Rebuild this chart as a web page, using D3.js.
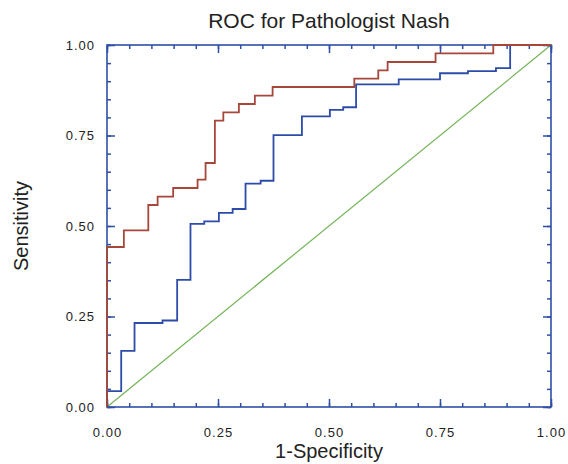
<!DOCTYPE html>
<meta charset="utf-8">
<script src="https://d3js.org/d3.v7.min.js"></script>
<style>
  body { margin: 0; background: #fff; }
  text { font-family: "Liberation Sans", Arial, sans-serif; fill: #222; }
</style>
<body>
<svg width="568" height="464"></svg>
<script>
// ROC points (step corners: fpr where it rises, sensitivity it rises to)
var redFpr  = [0, 0, 0.038, 0.093, 0.114, 0.149, 0.204, 0.222, 0.243, 0.262, 0.297, 0.333, 0.373, 0.557, 0.611, 0.632, 0.740, 0.870, 1.0];
var redSens = [0, 0.442, 0.488, 0.558, 0.581, 0.605, 0.628, 0.674, 0.791, 0.814, 0.837, 0.860, 0.884, 0.907, 0.930, 0.953, 0.977, 1.0, 1.0];

var blueFpr  = [0, 0, 0.032, 0.062, 0.125, 0.158, 0.188, 0.219, 0.252, 0.283, 0.312, 0.346, 0.375, 0.439, 0.502, 0.532, 0.561, 0.657, 0.750, 0.813, 0.876, 0.908, 1.0];
var blueSens = [0, 0.044, 0.155, 0.232, 0.239, 0.351, 0.506, 0.513, 0.536, 0.547, 0.617, 0.625, 0.751, 0.803, 0.821, 0.828, 0.891, 0.905, 0.922, 0.928, 0.936, 1.0, 1.0];

var chanceLine = [[0, 0], [1, 1]];
var majorTicks = [0, 0.25, 0.5, 0.75, 1];
var minorTicks = d3.range(0, 21).map(function(i){ return i / 20; });

var title = "ROC for Pathologist Nash", xTitle = "1-Specificity", yTitle = "Sensitivity";

var pLeft = 107, pRight = 551, pTop = 45, pBottom = 407;
var frameColor = "#2f4fa6", redColor = "#a5473a", blueColor = "#2c4ca8", greenColor = "#72b356";

var svg = d3.select("svg");
var x = d3.scaleLinear().domain([0, 1]).range([pLeft, pRight]);
var y = d3.scaleLinear().domain([0, 1]).range([pBottom, pTop]);
var fmt = d3.format(".2f");

function styleAxis(g) {
  g.attr("font-size", 13).attr("font-family", "'Liberation Sans', Arial, sans-serif");
  g.select(".domain").remove();
  g.selectAll(".tick line").attr("stroke", frameColor).attr("stroke-width", 1.5);
  g.selectAll(".tick text").attr("fill", "#222").style("letter-spacing", "1px");
}

// chance diagonal
svg.append("path")
  .attr("d", d3.line().x(function(d){ return x(d[0]); }).y(function(d){ return y(d[1]); })(chanceLine))
  .attr("stroke", greenColor).attr("stroke-width", 1.2).attr("fill", "none");

// minor ticks on all sides (inward)
svg.append("g").attr("transform", "translate(0," + pBottom + ")")
  .call(d3.axisBottom(x).tickValues(minorTicks).tickSizeInner(-4).tickSizeOuter(0).tickFormat(""))
  .call(styleAxis);
svg.append("g").attr("transform", "translate(0," + pTop + ")")
  .call(d3.axisTop(x).tickValues(minorTicks).tickSizeInner(-4).tickSizeOuter(0).tickFormat(""))
  .call(styleAxis);
svg.append("g").attr("transform", "translate(" + pLeft + ",0)")
  .call(d3.axisLeft(y).tickValues(minorTicks).tickSizeInner(-4).tickSizeOuter(0).tickFormat(""))
  .call(styleAxis);
svg.append("g").attr("transform", "translate(" + pRight + ",0)")
  .call(d3.axisRight(y).tickValues(minorTicks).tickSizeInner(-4).tickSizeOuter(0).tickFormat(""))
  .call(styleAxis);

// major ticks with labels
svg.append("g").attr("transform", "translate(0," + pBottom + ")")
  .call(d3.axisBottom(x).tickValues(majorTicks).tickSizeInner(-8).tickSizeOuter(0).tickPadding(21).tickFormat(fmt))
  .call(styleAxis);
svg.append("g").attr("transform", "translate(0," + pTop + ")")
  .call(d3.axisTop(x).tickValues(majorTicks).tickSizeInner(-8).tickSizeOuter(0).tickFormat(""))
  .call(styleAxis);
svg.append("g").attr("transform", "translate(" + pLeft + ",0)")
  .call(d3.axisLeft(y).tickValues(majorTicks).tickSizeInner(-8).tickSizeOuter(0).tickPadding(12).tickFormat(fmt))
  .call(styleAxis);
svg.append("g").attr("transform", "translate(" + pRight + ",0)")
  .call(d3.axisRight(y).tickValues(majorTicks).tickSizeInner(-8).tickSizeOuter(0).tickFormat(""))
  .call(styleAxis);

// frame
svg.append("rect")
  .attr("x", pLeft).attr("y", pTop).attr("width", pRight - pLeft).attr("height", pBottom - pTop)
  .attr("fill", "none").attr("stroke", frameColor).attr("stroke-width", 1.6);

// ROC curves
var step = d3.line().curve(d3.curveStepAfter)
  .x(function(d){ return x(d[0]); }).y(function(d){ return y(d[1]); });

svg.append("path")
  .attr("d", step(d3.zip(blueFpr, blueSens)))
  .attr("stroke", blueColor).attr("stroke-width", 1.8).attr("fill", "none");
svg.append("path")
  .attr("d", step(d3.zip(redFpr, redSens)))
  .attr("stroke", redColor).attr("stroke-width", 1.8).attr("fill", "none");

// titles
svg.append("text").attr("x", (pLeft + pRight) / 2).attr("y", 28)
  .attr("text-anchor", "middle").style("font-size", "21px").text(title);
svg.append("text").attr("x", (pLeft + pRight) / 2).attr("y", 458)
  .attr("text-anchor", "middle").style("font-size", "20px").text(xTitle);
svg.append("text").attr("transform", "translate(28," + ((pTop + pBottom) / 2) + ") rotate(-90)")
  .attr("text-anchor", "middle").style("font-size", "20px").text(yTitle);
</script>
